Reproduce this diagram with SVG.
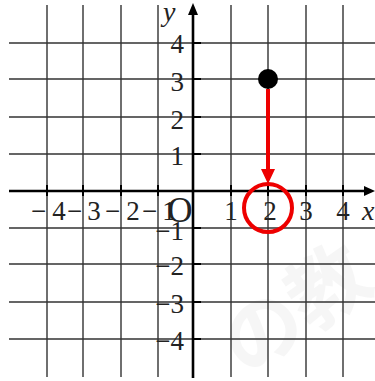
<svg xmlns="http://www.w3.org/2000/svg" width="375" height="381" viewBox="0 0 375 381">
<style>
.grid{stroke:#333;stroke-width:1.4;fill:none}
.axis{stroke:#000;stroke-width:2.6;fill:none}
.tick{stroke:#000;stroke-width:2;fill:none}
text.num{font-family:'Liberation Serif','Times New Roman',Times,serif;font-size:27px;fill:#222}
text.wm{font-family:'Noto Sans CJK JP',sans-serif;font-size:80px;fill:#000;opacity:0.03;font-weight:bold}
</style>
<rect width="375" height="381" fill="#fff"/>
<g id="watermark">
<text class="wm" x="215" y="360" transform="rotate(-35 260 320)">の教</text>
</g>
<g id="grid">
<path class="grid" d="M9,43H375M9,79H375M9,117H375M9,154H375M9,228H375M9,264H375M9,302H375M9,339H375"/>
<path class="grid" d="M47,5V377M83,5V377M121,5V377M158,5V377M231,5V377M268,5V377M306,5V377M343,5V377"/>
</g>
<g id="axes">
<path class="axis" d="M9,191H367"/>
<path d="M375,191 L364,186 L364,196 Z" fill="#000"/>
<path class="axis" d="M193,378V12"/>
<path d="M193,3 L188,15 L198,15 Z" fill="#000"/>
<path class="tick" d="M193,43H201M193,79H201M193,117H201M193,154H201M193,228H201M193,264H201M193,302H201M193,339H201"/>
<path class="tick" d="M47,185V196M83,185V196M121,185V196M158,185V196M231,185V196M268,185V196M306,185V196M343,185V196"/>
</g>
<g id="labels">
<text class="num" x="163" y="21" font-style="italic" style="font-size:28px">y</text>
<text class="num" x="184" y="53" text-anchor="end">4</text>
<text class="num" x="184" y="91" text-anchor="end">3</text>
<text class="num" x="184" y="129" text-anchor="end">2</text>
<text class="num" x="184" y="165" text-anchor="end">1</text>
<text class="num" x="184" y="240" text-anchor="end">−1</text>
<text class="num" x="184" y="275" text-anchor="end">−2</text>
<text class="num" x="184" y="313" text-anchor="end">−3</text>
<text class="num" x="184" y="350" text-anchor="end">−4</text>
<text class="num" x="31" y="220">−<tspan dx="6">4</tspan></text>
<text class="num" x="67" y="220">−<tspan dx="5">3</tspan></text>
<text class="num" x="105" y="220">−<tspan dx="6">2</tspan></text>
<text class="num" x="142" y="220">−<tspan dx="5">1</tspan></text>
<text class="num" x="180" y="222" text-anchor="middle" style="font-size:35px">O</text>
<text class="num" x="231" y="220" text-anchor="middle">1</text>
<text class="num" x="270" y="220" text-anchor="middle">2</text>
<text class="num" x="306" y="220" text-anchor="middle">3</text>
<text class="num" x="343" y="220" text-anchor="middle">4</text>
<text class="num" x="362" y="220" font-style="italic" style="font-size:28px">x</text>
</g>
<g id="point">
<circle cx="268" cy="79" r="10" fill="#000"/>
</g>
<g id="connectors">
<path d="M268,89V171" stroke="#e00" stroke-width="4" fill="none"/>
<path d="M268,184 L261,169 L275,169 Z" fill="#e00"/>
</g>
<g id="target">
<circle cx="268" cy="208" r="24" fill="none" stroke="#e00" stroke-width="4"/>
</g>
</svg>
